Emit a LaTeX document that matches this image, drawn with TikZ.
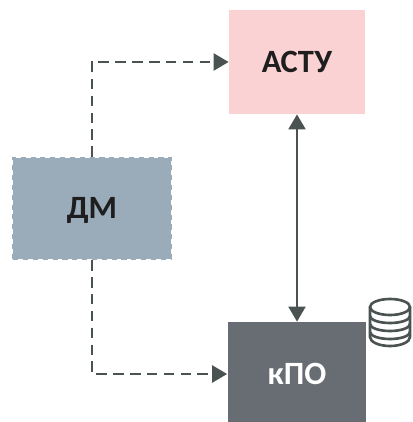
\documentclass[tikz,border=0pt]{standalone}
\usepackage{fontspec}
\setmainfont{Carlito}
\usetikzlibrary{arrows.meta}
\definecolor{astupink}{HTML}{FBD2D4}
\definecolor{dmblue}{HTML}{9AABBA}
\definecolor{kpogray}{HTML}{686D73}
\definecolor{linegray}{HTML}{4A5351}
\definecolor{textdark}{HTML}{1E1E1E}
\tikzset{
  block/.style={inner sep=0pt, font=\fontsize{18.5}{20}\selectfont\bfseries, text=textdark, text height=11.6pt, text depth=0pt},
  flow/.style={draw=linegray, line width=1.7pt, dash pattern=on 6pt off 3.6pt, -{Triangle[width=9.5pt,length=8.5pt]}},
  link/.style={draw=linegray, line width=1.5pt, {Triangle[width=9.5pt,length=8.5pt]}-{Triangle[width=9.5pt,length=8.5pt]}},
  dbline/.style={draw=linegray, line width=1.5pt}
}
\begin{document}
\begin{tikzpicture}[x=0.02cm, y=-0.02cm]
  \useasboundingbox (0,0) rectangle (412,422);

  \node[block, fill=astupink, minimum width=2.72cm, minimum height=2.08cm] (astu) at (297,62) {АСТУ};
  \node[block, fill=dmblue, draw=dmblue, line width=1.4pt, dash pattern=on 2.9pt off 2.7pt,
    minimum width=3.15cm, minimum height=2.02cm] (dm) at (92,208.5) {ДМ};
  \node[block, fill=kpogray, text=white, minimum width=2.78cm, minimum height=2.08cm] (kpo) at (297,374) {кПО};

  \draw[flow] (dm.north) |- (astu.west);
  \draw[flow] (dm.south) |- (kpo.west);
  \draw[link] (astu.south) -- (kpo.north);

  % database icon
  \draw[dbline] (370,307) -- (370,337) arc[start angle=180, end angle=360, x radius=20, y radius=-9] -- (410,307);
  \draw[dbline] (390,307) ellipse[x radius=20, y radius=8];
  \foreach \y in {316,324,332}
    \draw[dbline] (370,\y) arc[start angle=180, end angle=360, x radius=20, y radius=-7];
\end{tikzpicture}
\end{document}
